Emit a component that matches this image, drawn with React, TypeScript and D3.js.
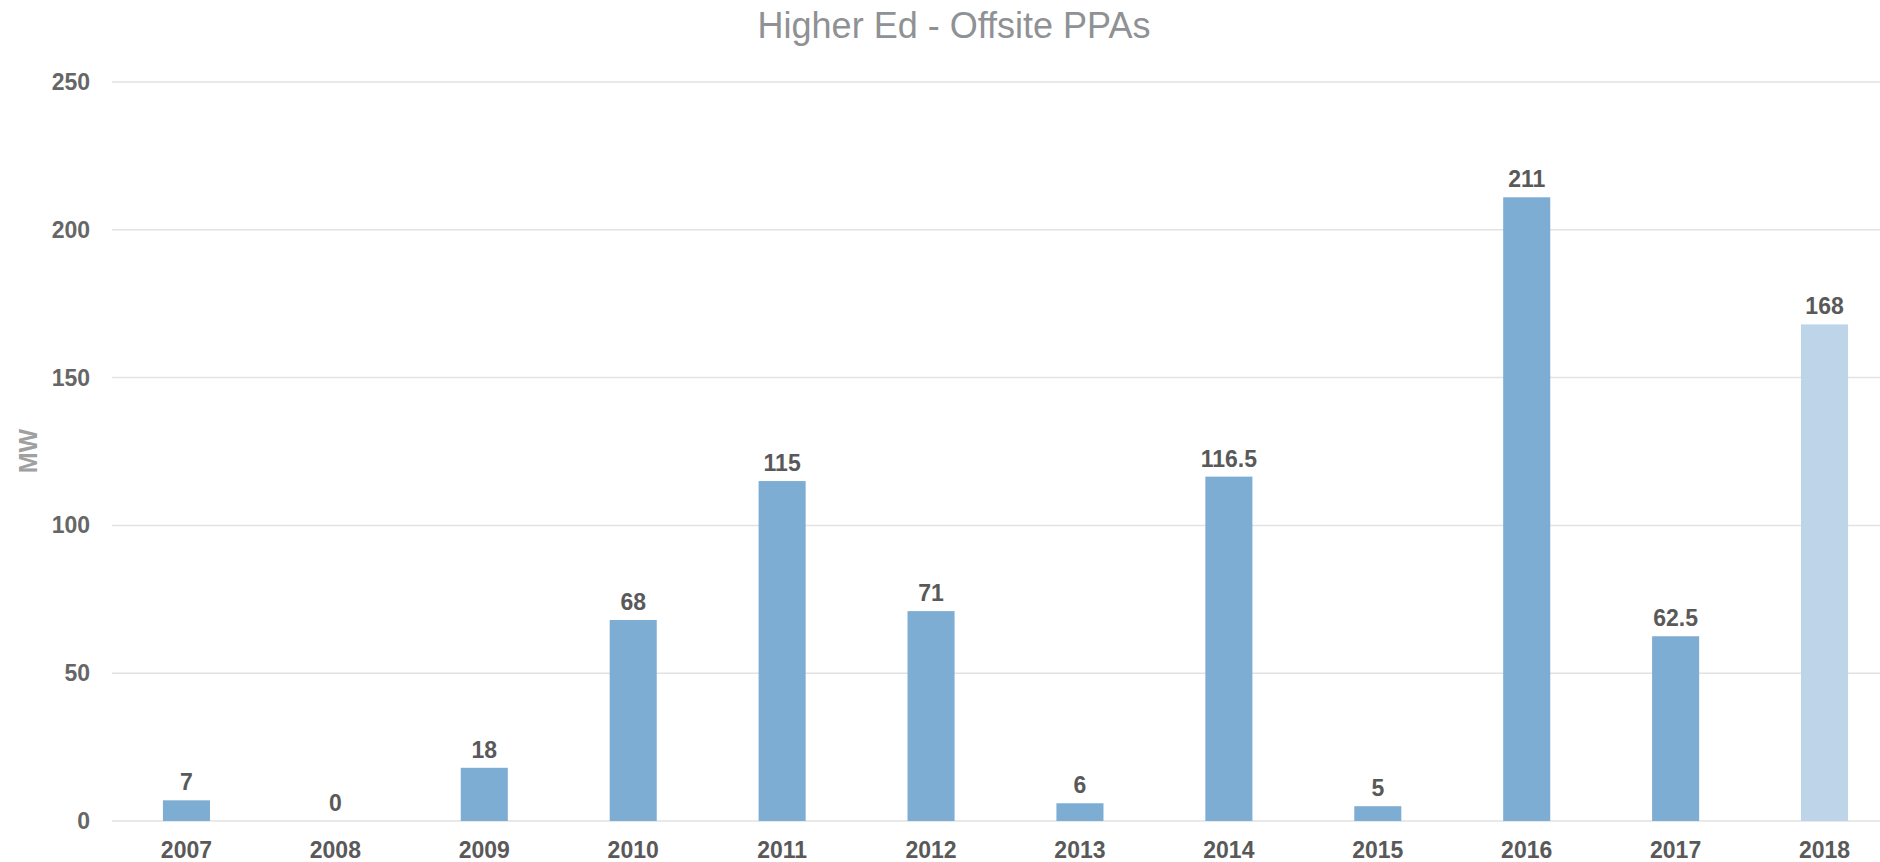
import React, { useRef, useEffect } from "react";
import * as d3 from "d3";

const years = ["2007", "2008", "2009", "2010", "2011", "2012", "2013", "2014", "2015", "2016", "2017", "2018"];
const mw = [7, 0, 18, 68, 115, 71, 6, 116.5, 5, 211, 62.5, 168];
const yTicks = [0, 50, 100, 150, 200, 250];

const W = 1880;
const H = 862;
const FONT = "'Liberation Sans', Arial, sans-serif";

function App() {
  const svgRef = useRef<SVGSVGElement>(null);

  useEffect(() => {
    const svg = d3.select(svgRef.current);
    svg.selectAll("*").remove();

    const x = d3.scaleBand().domain(years).range([112, 1899]).paddingInner(0.684).paddingOuter(0.342);
    const y = d3.scaleLinear().domain([0, 250]).range([821, 82]);

    // grid
    svg
      .selectAll(".grid")
      .data(yTicks)
      .join("line")
      .attr("class", "grid")
      .attr("x1", 112)
      .attr("x2", W)
      .attr("y1", (d) => y(d))
      .attr("y2", (d) => y(d))
      .attr("stroke", "#e2e2e2")
      .attr("stroke-width", 1.5);

    svg
      .selectAll(".ytick")
      .data(yTicks)
      .join("text")
      .attr("class", "ytick")
      .attr("x", 90)
      .attr("y", (d) => y(d) + 8)
      .attr("text-anchor", "end")
      .attr("font-family", FONT)
      .attr("font-weight", "bold")
      .attr("font-size", 23)
      .attr("fill", "#666666")
      .text((d) => d);

    svg
      .selectAll(".bar")
      .data(mw)
      .join("rect")
      .attr("class", "bar")
      .attr("x", (d, i) => x(years[i])!)
      .attr("width", x.bandwidth())
      .attr("y", (d) => y(d))
      .attr("height", (d) => y(0) - y(d))
      .attr("fill", (d, i) => (i === years.length - 1 ? "#bed5e9" : "#7eadd3"));

    svg
      .selectAll(".label")
      .data(mw)
      .join("text")
      .attr("class", "label")
      .attr("x", (d, i) => x(years[i])! + x.bandwidth() / 2)
      .attr("y", (d) => y(d) - 10)
      .attr("text-anchor", "middle")
      .attr("font-family", FONT)
      .attr("font-weight", "bold")
      .attr("font-size", 23)
      .attr("fill", "#595959")
      .text((d) => d);

    svg
      .selectAll(".xtick")
      .data(years)
      .join("text")
      .attr("class", "xtick")
      .attr("x", (d) => x(d)! + x.bandwidth() / 2)
      .attr("y", 858)
      .attr("text-anchor", "middle")
      .attr("font-family", FONT)
      .attr("font-weight", "bold")
      .attr("font-size", 23)
      .attr("fill", "#595959")
      .text((d) => d);

    svg
      .append("text")
      .attr("transform", "translate(37,451) rotate(-90)")
      .attr("text-anchor", "middle")
      .attr("font-family", FONT)
      .attr("font-weight", "bold")
      .attr("font-size", 25)
      .attr("fill", "#a0a0a0")
      .text("MW");

    svg
      .append("text")
      .attr("x", 954)
      .attr("y", 38)
      .attr("text-anchor", "middle")
      .attr("font-family", FONT)
      .attr("font-size", 36)
      .attr("fill", "#8f9194")
      .text("Higher Ed - Offsite PPAs");
  }, []);

  return (
    <svg
      ref={svgRef}
      width={W}
      height={H}
      style={{ position: "absolute", left: 0, top: 0, background: "#fff" }}
    ></svg>
  );
}

export default App;
